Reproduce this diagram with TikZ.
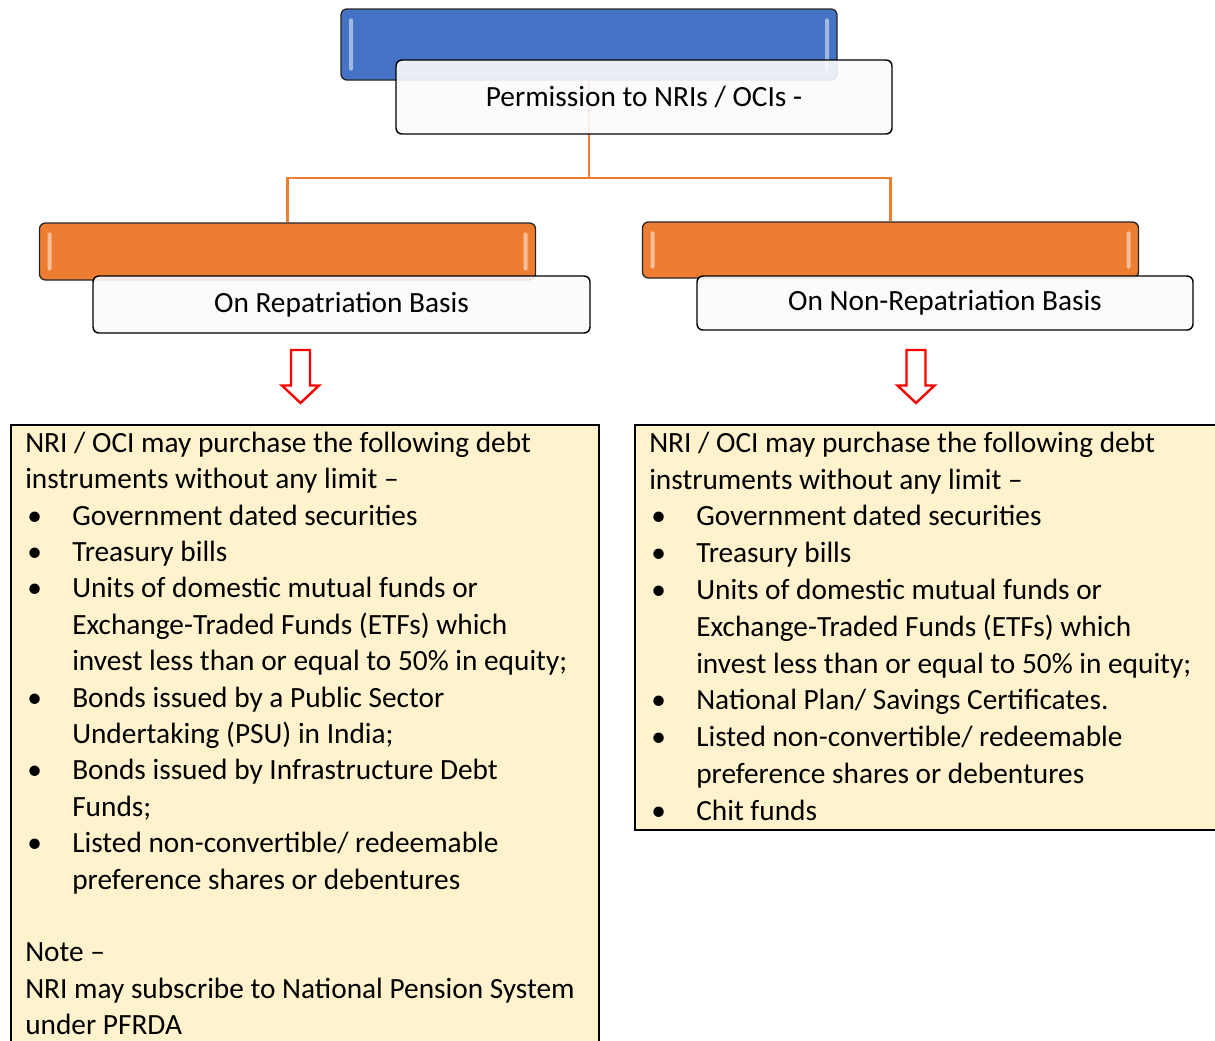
\documentclass[tikz,border=0pt]{standalone}
\usepackage{fontspec}
\setmainfont{Carlito}
\usepackage{tikz}
\tikzset{>=latex}
\usetikzlibrary{positioning}

\definecolor{barblue}{HTML}{4472C4}
\definecolor{barorange}{HTML}{ED7D31}
\definecolor{noteyellow}{HTML}{FFF2CC}

\newlength{\bulind}
\setlength{\bulind}{35.25pt}
\newcommand{\bitem}[1]{\par\noindent\hangindent=\bulind\hangafter=1\makebox[\bulind][l]{\hspace{1.5pt}\textbullet}#1}
\newcommand{\tightspace}{\spaceskip=0.226em\xspaceskip=0.3em\hyphenpenalty=10000\relax}
% light strips inside a bar
\newcommand{\shine}[1]{
    \fill[white, fill opacity=0.5, rounded corners=1.5pt] ([xshift=6.5pt, yshift=-7.5pt]#1.north west) rectangle ([xshift=9.5pt, yshift=7.5pt]#1.south west);
    \fill[white, fill opacity=0.5, rounded corners=1.5pt] ([xshift=-6.5pt, yshift=-7.5pt]#1.north east) rectangle ([xshift=-9.5pt, yshift=7.5pt]#1.south east);
}

\begin{document}
\begin{tikzpicture}[x=0.75pt, y=-0.75pt,
    bar/.style={draw=black!85, line width=1pt, rounded corners=4.5pt, minimum width=372pt},
    labelbox/.style={draw=black, line width=1.1pt, rounded corners=4.5pt, fill=white!97!gray, fill opacity=0.9, text opacity=1, minimum width=372pt, font=\fontsize{22pt}{27.3pt}\selectfont},
    branch/.style={draw=barorange, line width=1.6pt},
    downarrow/.style={draw=red, line width=1.8pt, fill=white},
    notebox/.style={draw=black, line width=1.3pt, fill=noteyellow},
    notetext/.style={inner sep=0pt, text width=420pt, align=left, font=\fontsize{22pt}{27.3pt}\selectfont}]

    \useasboundingbox (0,0) rectangle (1215,1040);
    \clip (0,0) rectangle (1215,1040);

    \node[bar, fill=barblue, minimum height=53.25pt] (perm) at (589,44.5) {};
    \node[bar, fill=barorange, minimum height=42.75pt] (repbar) at (287.5,251.5) {};
    \node[bar, fill=barorange, minimum height=42pt] (nonrepbar) at (890.5,250) {};

    \coordinate (fork) at (589,178);
    \draw[branch] (perm.south) -- (fork) -| (repbar.north);
    \draw[branch] (fork) -| (nonrepbar.north);

    \shine{perm}
    \shine{repbar}
    \shine{nonrepbar}

    \node[labelbox, minimum height=55.5pt] (permlabel) at (644,97) {Permission to NRIs / OCIs -};
    \node[labelbox, minimum height=42.75pt, minimum width=372.75pt] (replabel) at (341.5,304.5) {On Repatriation Basis};
    \node[labelbox, minimum height=40.5pt] (nonreplabel) at (945,303) {On Non-Repatriation Basis};

    \foreach \ax in {300.5, 916}{
        \draw[downarrow] (\ax-9.5,350) -- (\ax+9.5,350) -- (\ax+9.5,385.5) -- (\ax+18.5,385.5) -- (\ax,403) -- (\ax-18.5,385.5) -- (\ax-9.5,385.5) -- cycle;
    }

    \node[notebox, anchor=north west, minimum width=441pt, minimum height=480pt] (repnote) at (10,424) {};
    \node[notebox, anchor=north west, minimum width=443.25pt, minimum height=303.75pt] (nonrepnote) at (634,424) {};

    \node[notetext, anchor=north west] (reptext) at (25,426.7) {\tightspace\noindent\rule{0pt}{19pt}NRI / OCI may purchase the following debt\newline instruments without any limit –
        \bitem{Government dated securities}
        \bitem{Treasury bills}
        \bitem{Units of domestic mutual funds or\newline Exchange-Traded Funds (ETFs) which\newline invest less than or equal to 50\% in equity;}
        \bitem{Bonds issued by a Public Sector\newline Undertaking (PSU) in India;}
        \bitem{Bonds issued by Infrastructure Debt\newline Funds;}
        \bitem{Listed non-convertible/ redeemable\newline preference shares or debentures}
        \par\vspace{27.3pt}\noindent Note –\newline NRI may subscribe to National Pension System\newline under PFRDA};

    \node[notetext, anchor=north west, font=\fontsize{22pt}{27.6pt}\selectfont] (nonreptext) at (649,426.7) {\tightspace\noindent\rule{0pt}{19pt}NRI / OCI may purchase the following debt\newline instruments without any limit –
        \bitem{Government dated securities}
        \bitem{Treasury bills}
        \bitem{Units of domestic mutual funds or\newline Exchange-Traded Funds (ETFs) which\newline invest less than or equal to 50\% in equity;}
        \bitem{National Plan/ Savings Certificates.}
        \bitem{Listed non-convertible/ redeemable\newline preference shares or debentures}
        \bitem{Chit funds}};

\end{tikzpicture}
\end{document}
